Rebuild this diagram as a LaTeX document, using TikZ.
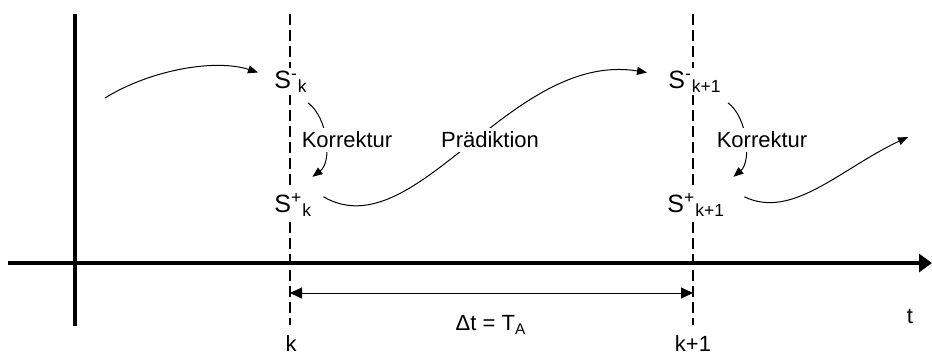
\documentclass[tikz,border=0pt]{standalone}
\usepackage{fontspec}
\setmainfont{Liberation Sans}
\usetikzlibrary{arrows.meta}

\begin{document}
\begin{tikzpicture}[x=0.5pt,y=-0.5pt,
        font=\fontsize{11}{13}\selectfont,
        flow/.style={line width=0.5pt,-{Triangle[length=5pt,width=4pt]}},
        state/.style={fill=white,inner sep=1.5pt,anchor=base west,font=\fontsize{12.5}{14}\selectfont},
        note/.style={fill=white,inner sep=2pt},
        instant/.style={line width=0.7pt,dash pattern=on 5.5pt off 2.5pt}]
        \useasboundingbox (0,0) rectangle (932,354);
        
        % Draw time axis and vertical axis
        \draw[line width=2pt] (75,14) -- (75,326);
        \draw[line width=2pt,-{Triangle[length=6.5pt,width=9pt]}] (8,263) -- (932,263);
        \node (t) at (910,316) {t};
        
        % Draw sampling instants
        \draw[instant] (290,14) -- (290,325);
        \draw[instant] (693,14) -- (693,325);
        \node (k) at (291,344) {k};
        \node (k1) at (693,344) {k+1};
        
        % Draw sampling period
        \coordinate (ka) at (290,293);
        \coordinate (kb) at (693,293);
        \draw[line width=0.5pt,{Triangle[length=6pt,width=5.5pt]}-{Triangle[length=6pt,width=5.5pt]}] (ka) -- (kb);
        \node (dt) at (491,325) {Δt = T\textsubscript{A}};
        
        % Draw states
        \node[state] (Smk) at (271,88) {S\textsuperscript{-}\textsubscript{k}}; % a priori
        \node[state] (Spk) at (271,212) {S\textsuperscript{+}\textsubscript{k}}; % a posteriori
        \node[state] (Smk1) at (665,88) {S\textsuperscript{-}\textsubscript{k+1}};
        \node[state] (Spk1) at (664,212) {S\textsuperscript{+}\textsubscript{k+1}};
        
        % Draw transitions
        \coordinate (in) at (105,98);
        \coordinate (out) at (908,137);
        \draw[flow] (in) .. controls +(45,-28) and +(-43,-14) .. ([xshift=-6.5pt,yshift=4.5pt]Smk.west);
        \draw[flow] ([xshift=-1.5pt,yshift=-3.5pt]Smk.south east) .. controls +(20,15) and +(20,-15) .. ([xshift=-1.5pt,yshift=6.5pt]Spk.north east);
        \draw[flow] ([xshift=4pt,yshift=4pt]Spk.east) .. controls +(92,53) and +(-137,-22) .. ([xshift=-9pt,yshift=4.5pt]Smk1.west);
        \draw[flow] ([xshift=1.5pt,yshift=-3.5pt]Smk1.south east) .. controls +(20,15) and +(18,-15) .. ([xshift=2.5pt,yshift=6.5pt]Spk1.north east);
        \draw[flow] ([xshift=8pt,yshift=4pt]Spk1.east) .. controls +(48,23) and +(-68,32) .. (out);
        
        % Draw transition labels
        \node[note] (korr) at (347,140) {Korrektur};
        \node[note] (praed) at (490,140) {Prädiktion};
        \node[note] (korr1) at (762,140) {Korrektur};
\end{tikzpicture}
\end{document}
